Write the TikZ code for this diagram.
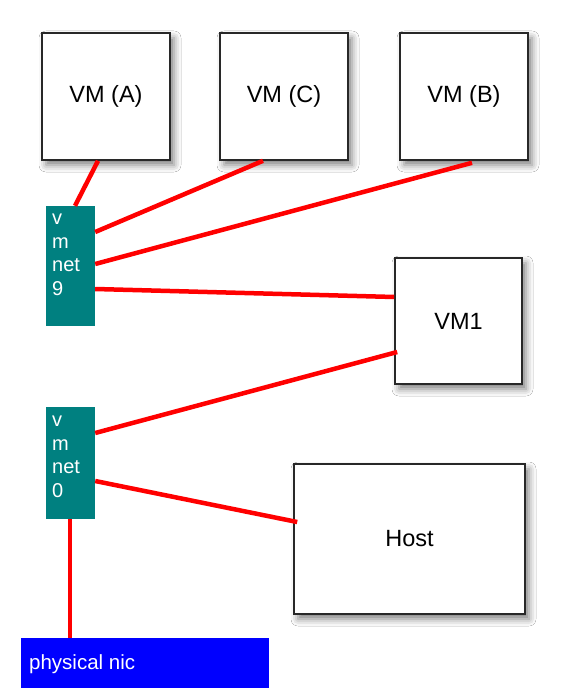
\documentclass[tikz,border=0pt]{standalone}
\usepackage{fontspec}
\setmainfont{Liberation Sans}
\usetikzlibrary{shadows.blur}
\definecolor{vmteal}{RGB}{0,128,128}
\definecolor{linkred}{RGB}{255,0,0}
\definecolor{nicblue}{RGB}{0,0,255}
\definecolor{boxline}{RGB}{40,40,40}
\begin{document}
\begin{tikzpicture}[x=1pt,y=-1pt,
  vmbox/.style={draw=boxline,line width=1.6pt,fill=white,inner sep=0pt,
    blur shadow={shadow xshift=4pt,shadow yshift=-5pt,shadow blur radius=7pt,shadow opacity=50},
    font=\fontsize{23.5}{27}\selectfont},
  netbox/.style={fill=vmteal,draw=none,inner sep=0pt,minimum width=49pt},
  nettext/.style={anchor=north west,inner sep=0pt,align=left,text=white,
    font=\fontsize{20}{23.5}\selectfont},
  link/.style={draw=linkred,line width=4.5pt}]
\useasboundingbox (0,0) rectangle (568,700);
\fill[white] (0,0) rectangle (568,700);
% VMs
\node[vmbox,minimum width=128pt,minimum height=127pt] (A) at (106,96.5) {VM (A)};
\node[vmbox,minimum width=128pt,minimum height=127pt] (C) at (284,96.5) {VM (C)};
\node[vmbox,minimum width=128pt,minimum height=127pt] (B) at (464,96.5) {VM (B)};
\node[vmbox,minimum width=127pt,minimum height=126pt] (vm1) at (458.5,321) {VM1};
\node[vmbox,minimum width=231pt,minimum height=150pt] (host) at (409.5,539) {Host};
% vmnets
\node[netbox,minimum height=120pt] (n9) at (70.5,266) {};
\node[nettext] (n9t) at (52,214) {v\\m\\net\\9};
\node[netbox,minimum height=112pt] (n0) at (70.5,463) {};
\node[nettext] (n0t) at (52,416) {v\\m\\net\\0};
% physical nic
\node[fill=nicblue,draw=none,inner sep=0pt,minimum width=248pt,minimum height=50pt] (nic) at (145,663) {};
\node[anchor=base west,inner sep=0pt,text=white,font=\fontsize{20.5}{24}\selectfont] (nict) at (29,669) {physical nic};
% links
\draw[link] ([xshift=-8pt]A.south) -- ([xshift=4.5pt]n9.north);
\draw[link] ([xshift=-21pt]C.south) -- ([yshift=34pt]n9.east);
\draw[link] ([xshift=8pt,yshift=-2pt]B.south) -- ([yshift=2pt]n9.east);
\draw[link] ([yshift=-23pt]n9.east) -- ([yshift=24pt]vm1.west);
\draw[link] ([yshift=-31pt,xshift=3pt]vm1.west) -- ([yshift=30pt]n0.east);
\draw[link] ([yshift=-18pt]n0.east) -- ([yshift=17pt,xshift=4pt]host.west);
\draw[link] ([xshift=-0.5pt]n0.south) -- ([xshift=-0.5pt]n0.south |- nic.north);
\end{tikzpicture}
\end{document}
